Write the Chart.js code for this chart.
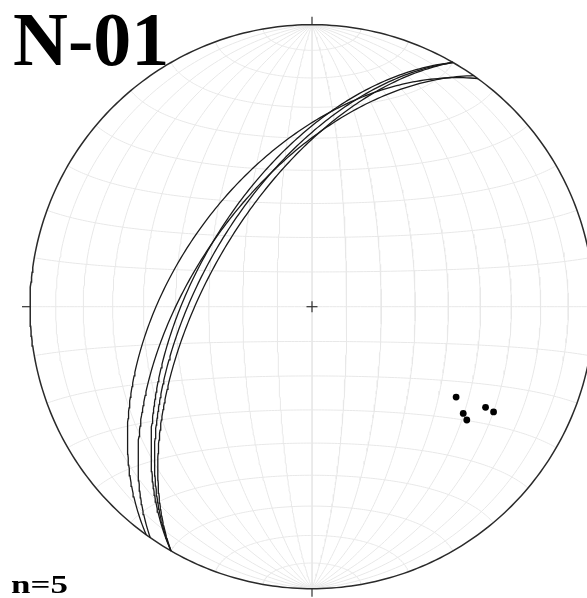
<!DOCTYPE html>
<html>
<head>
<meta charset="utf-8">
<script src="https://cdn.jsdelivr.net/npm/chart.js@4/dist/chart.umd.min.js"></script>
<style>
html,body{margin:0;padding:0;background:#fff;overflow:hidden;}
canvas{display:block;}
</style>
</head>
<body>
<canvas id="c" width="587" height="598"></canvas>
<script>
// ---- data ----
const TITLE = "N-01";
const COUNT_LABEL = "n=5";
// great circles (planes): dip direction and dip, degrees
const planeDipDir = [306, 305, 300, 300, 300];
const planeDip    = [50, 55.5, 55.5, 57.5, 59.5];
// poles: trend and plunge, degrees (lower hemisphere)
const poleTrend  = [122.1, 125.2, 126.2, 120.1, 120.1];
const polePlunge = [39.5, 34.7, 32.5, 29.6, 26.5];
// net grid interval, degrees
const gridStep = 10;

// ---- equal-area (Schmidt) lower-hemisphere projection helpers ----
const rad = d => d * Math.PI / 180;
function proj(n, e, d) {           // unit vector (north, east, down), down >= 0
  if (d < 0) { n = -n; e = -e; d = -d; }
  const k = Math.sqrt(1 / (1 + d));
  return { x: e * k, y: n * k };
}
function lineVec(trend, plunge) {
  const t = rad(trend), p = rad(plunge);
  return [Math.cos(p) * Math.cos(t), Math.cos(p) * Math.sin(t), Math.sin(p)];
}
function greatCircle(dipDir, dip) {
  const s = lineVec(dipDir - 90, 0), dv = lineVec(dipDir, dip);
  const pts = [];
  for (let a = 0; a <= 180; a += 1) {
    const c = Math.cos(rad(a)), si = Math.sin(rad(a));
    pts.push(proj(c * s[0] + si * dv[0], c * s[1] + si * dv[1], Math.max(0, c * s[2] + si * dv[2])));
  }
  return pts;
}
function smallCircleNS(beta) {     // cone of half-angle beta about the N axis
  const pts = [];
  const cb = Math.cos(rad(beta)), sb = Math.sin(rad(beta));
  for (let f = 0; f <= 180; f += 1) {
    const ph = rad(f);
    pts.push(proj(cb, sb * Math.cos(ph), sb * Math.sin(ph)));
  }
  return pts;
}
function primitive() {
  const pts = [];
  for (let a = 0; a <= 360; a += 1) pts.push({ x: Math.sin(rad(a)), y: Math.cos(rad(a)) });
  return pts;
}

const GRID = '#e8e8e8';
const datasets = [];
// poles (drawn on top)
datasets.push({
  label: 'poles',
  data: poleTrend.map((t, i) => { const v = lineVec(t, polePlunge[i]); return proj(v[0], v[1], v[2]); }),
  showLine: false, pointRadius: 3.4, pointHoverRadius: 3.4, pointBackgroundColor: '#000', pointBorderWidth: 0, order: 0
});
// great circles
planeDipDir.forEach((dd, i) => datasets.push({
  label: 'plane ' + (i + 1), data: greatCircle(dd, planeDip[i]),
  showLine: true, pointRadius: 0, borderColor: '#1a1a1a', borderWidth: 1.3, order: 1
}));
// primitive circle
datasets.push({ label: 'primitive', data: primitive(), showLine: true, pointRadius: 0,
  borderColor: '#2a2a2a', borderWidth: 1.5, order: 2 });
// cardinal ticks and centre cross
const tk = 8 / 282, cr = 5.5 / 282;
[[{x:0,y:1},{x:0,y:1+tk}],[{x:0,y:-1},{x:0,y:-1-tk}],[{x:-1,y:0},{x:-1-tk,y:0}],[{x:1,y:0},{x:1+tk,y:0}],
 [{x:-cr,y:0},{x:cr,y:0}],[{x:0,y:-cr},{x:0,y:cr}]].forEach(seg => datasets.push({
  label: 'tick', data: seg, showLine: true, pointRadius: 0, borderColor: '#333', borderWidth: 1.2, order: 2 }));
// grid: meridians (great circles through N and S) and small circles about N-S axis
for (let d = gridStep; d <= 90; d += gridStep) {
  datasets.push({ label: 'grid', data: greatCircle(90, d), showLine: true, pointRadius: 0, borderColor: GRID, borderWidth: 1, order: 3 });
  if (d < 90) datasets.push({ label: 'grid', data: greatCircle(270, d), showLine: true, pointRadius: 0, borderColor: GRID, borderWidth: 1, order: 3 });
}
for (let b = gridStep; b < 180; b += gridStep) {
  datasets.push({ label: 'grid', data: smallCircleNS(b), showLine: true, pointRadius: 0, borderColor: GRID, borderWidth: 1, order: 3 });
}

const CX = 312, CY = 306.7, R = 282, W = 587, H = 598;
const textPlugin = {
  id: 'labels',
  afterDraw(chart) {
    const ctx = chart.ctx;
    ctx.save();
    ctx.fillStyle = '#000';
    ctx.textBaseline = 'alphabetic';
    ctx.font = 'bold 76px "Liberation Serif", "Times New Roman", serif';
    ctx.fillText(TITLE, 13, 65);
    ctx.translate(11, 593);
    ctx.scale(1.4, 1);
    ctx.font = 'bold 25px "Liberation Serif", "Times New Roman", serif';
    ctx.fillText(COUNT_LABEL, 0, 0);
    ctx.restore();
  }
};

new Chart(document.getElementById('c'), {
  type: 'scatter',
  data: { datasets },
  options: {
    responsive: false, animation: false, devicePixelRatio: 1,
    layout: { padding: 0, autoPadding: false },
    plugins: { legend: { display: false }, tooltip: { enabled: false } },
    elements: { line: { tension: 0, fill: false } },
    scales: {
      x: { type: 'linear', display: false, min: -CX / R, max: (W - CX) / R },
      y: { type: 'linear', display: false, min: -(H - CY) / R, max: CY / R }
    }
  },
  plugins: [textPlugin]
});
</script>
</body>
</html>
